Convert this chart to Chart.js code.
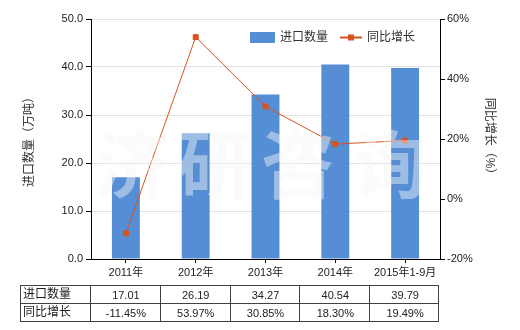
<!DOCTYPE html>
<html><head><meta charset="utf-8">
<script src="https://cdn.jsdelivr.net/npm/chart.js@4"></script>
<style>html,body{margin:0;padding:0;background:#fff}#wrap{width:520px;height:330px}</style>
</head><body><div id="wrap"><canvas id="c" width="520" height="330"></canvas></div>
<script>
const categories = ["2011年","2012年","2013年","2014年","2015年1-9月"];
const importQty = [17.01, 26.19, 34.27, 40.54, 39.79];
const yoyGrowth = [-11.45, 53.97, 30.85, 18.30, 19.49];
const qtyLabels = ["17.01","26.19","34.27","40.54","39.79"];
const growthLabels = ["-11.45%","53.97%","30.85%","18.30%","19.49%"];
const seriesNames = ["进口数量","同比增长"];
const leftTitle = "进口数量（万吨）";
const rightTitle = "同比增长（%）";
const watermark = ["济","研","咨","询"];

const FONT = "'Liberation Sans','Noto Sans CJK SC',sans-serif";
const BAR = "#558ED5";
const LINE = "#D9531E";

const extras = {
  id: 'extras',
  afterDatasetsDraw(chart) {
    const ctx = chart.ctx;
    ctx.save();
    ctx.fillStyle = "rgba(246,246,246,0.45)";
    ctx.font = "bold 74px 'Noto Sans CJK SC',sans-serif";
    ctx.textAlign = "center"; ctx.textBaseline = "middle";
    const xs = [132, 215, 298, 390];
    watermark.forEach((w, i) => ctx.fillText(w, xs[i], 164));
    ctx.restore();
  },
  afterDraw(chart) {
    const ctx = chart.ctx, a = chart.chartArea, xs = chart.scales.x;
    ctx.save();
    // axis titles
    ctx.fillStyle = "#333"; ctx.font = "12px " + FONT;
    ctx.textAlign = "center"; ctx.textBaseline = "middle";
    ctx.save(); ctx.translate(30, (a.top + a.bottom) / 2); ctx.rotate(-Math.PI / 2);
    ctx.fillText(leftTitle, 0, 0); ctx.restore();
    ctx.save(); ctx.translate(489, (a.top + a.bottom) / 2); ctx.rotate(Math.PI / 2);
    ctx.fillText(rightTitle, 0, 0); ctx.restore();
    // legend
    ctx.fillStyle = BAR; ctx.fillRect(250, 32, 25, 11);
    ctx.fillStyle = "#333"; ctx.textAlign = "left"; ctx.font = "12px " + FONT;
    ctx.fillText(seriesNames[0], 280, 38);
    ctx.strokeStyle = LINE; ctx.lineWidth = 2;
    ctx.beginPath(); ctx.moveTo(340, 37.5); ctx.lineTo(362, 37.5); ctx.stroke();
    ctx.fillStyle = LINE; ctx.fillRect(348, 34.5, 6, 6);
    ctx.fillStyle = "#333"; ctx.fillText(seriesNames[1], 367, 38);
    // table
    const half = (xs.getPixelForValue(1) - xs.getPixelForValue(0)) / 2;
    const tl = 20.5, tr = Math.round(a.right) - 1.5, r0 = 285.5, r1 = 303.5, r2 = 321.5;
    ctx.strokeStyle = "#404040"; ctx.lineWidth = 1;
    ctx.strokeRect(tl, r0, tr - tl, r2 - r0);
    ctx.beginPath(); ctx.moveTo(tl, r1); ctx.lineTo(tr, r1); ctx.stroke();
    ctx.beginPath(); ctx.moveTo(Math.round(a.left) - 0.5, r0); ctx.lineTo(Math.round(a.left) - 0.5, r2); ctx.stroke();
    for (let i = 0; i < categories.length - 1; i++) {
      const x = Math.round(xs.getPixelForValue(i) + half) - 0.5;
      ctx.beginPath(); ctx.moveTo(x, r0); ctx.lineTo(x, r2); ctx.stroke();
    }
    ctx.fillStyle = "#222"; ctx.font = "12px " + FONT; ctx.textAlign = "left";
    ctx.fillText(seriesNames[0], 23, (r0 + r1) / 2);
    ctx.fillText(seriesNames[1], 23, (r1 + r2) / 2);
    ctx.textAlign = "center"; ctx.font = "11px " + FONT;
    for (let i = 0; i < categories.length; i++) {
      const cx = xs.getPixelForValue(i);
      ctx.fillText(qtyLabels[i], cx, (r0 + r1) / 2 + 1);
      ctx.fillText(growthLabels[i], cx, (r1 + r2) / 2 + 1);
    }
    ctx.restore();
  }
};

new Chart(document.getElementById('c'), {
  type: 'bar',
  data: {
    labels: categories,
    datasets: [
      { type: 'bar', label: seriesNames[0], data: importQty, backgroundColor: BAR, yAxisID: 'y',
        categoryPercentage: 1, barPercentage: 0.4, order: 2 },
      { type: 'line', label: seriesNames[1], data: yoyGrowth, borderColor: LINE, backgroundColor: LINE,
        borderWidth: 1, pointStyle: 'rect', pointRadius: 3.5, pointHoverRadius: 3.5, yAxisID: 'y1', order: 1 }
    ]
  },
  options: {
    responsive: false, animation: false,
    layout: { padding: { top: 19, left: 0, right: 0, bottom: 0 } },
    plugins: { legend: { display: false }, tooltip: { enabled: false } },
    scales: {
      x: {
        grid: { display: true, drawOnChartArea: false, offset: false, tickLength: 4, color: '#000' },
        border: { color: '#000' },
        ticks: { color: '#222', font: { size: 11, family: FONT }, padding: 3, maxRotation: 0 },
        afterFit(s) { s.height = 71; }
      },
      y: {
        position: 'left', min: 0, max: 50,
        ticks: { stepSize: 10, color: '#222', font: { size: 11, family: FONT }, padding: 3,
          callback: v => v.toFixed(1) },
        grid: { color: '#e3e3e3', tickLength: 5, tickColor: '#000' },
        border: { color: '#000' },
        afterFit(s) { s.width = 91; }
      },
      y1: {
        position: 'right', min: -20, max: 60,
        ticks: { stepSize: 20, color: '#222', font: { size: 11, family: FONT }, padding: 2,
          callback: v => v + '%' },
        grid: { drawOnChartArea: false, tickLength: 5, color: '#000' },
        border: { color: '#000' },
        afterFit(s) { s.width = 80; }
      }
    }
  },
  plugins: [extras]
});
</script></body></html>
